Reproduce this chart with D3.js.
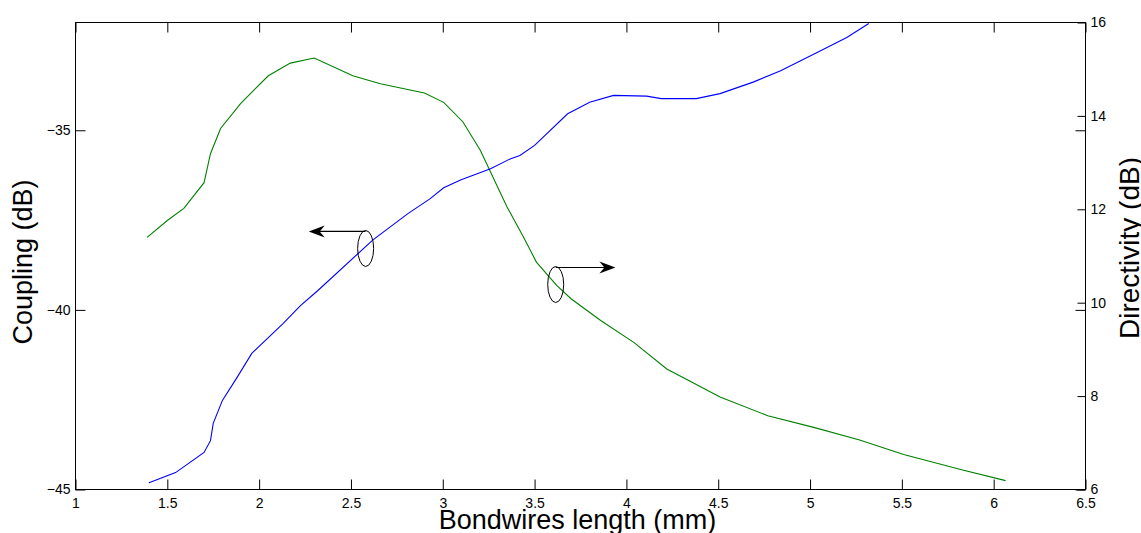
<!DOCTYPE html>
<html>
<head>
<meta charset="utf-8">
<script src="https://cdn.jsdelivr.net/npm/d3@7/dist/d3.min.js"></script>
<style>
    body { margin: 0; background: #fff; }
    text { font-family: "Liberation Sans", Arial, sans-serif; fill: #000; }
    .axis path, .axis line { stroke: #000; }
</style>
</head>
<body>
<div id="chart"></div>
<script>
// coupling curve (left axis)
const couplingLength = [1.40, 1.545, 1.70, 1.735, 1.75, 1.80, 1.88, 1.96, 2.13, 2.225, 2.32, 2.62, 2.81, 2.93, 3.005,
    3.10, 3.26, 3.37, 3.42, 3.50, 3.68, 3.80, 3.93, 4.11, 4.19, 4.38, 4.51, 4.69, 4.84, 5.06, 5.20, 5.32];
const coupling = [-44.81, -44.53, -43.97, -43.64, -43.16, -42.52, -41.88, -41.21, -40.38, -39.88, -39.46, -38.05, -37.32, -36.91, -36.60,
    -36.38, -36.07, -35.79, -35.70, -35.42, -34.54, -34.22, -34.03, -34.05, -34.12, -34.12, -33.98, -33.66, -33.34, -32.78, -32.42, -32.03];

// directivity curve (right axis)
const directivityLength = [1.39, 1.50, 1.59, 1.70, 1.735, 1.79, 1.90, 2.05, 2.17, 2.30, 2.51, 2.66, 2.90, 3.005, 3.11,
    3.205, 3.35, 3.44, 3.51, 3.62, 3.70, 3.86, 4.04, 4.22, 4.51, 4.77, 5.02, 5.27, 5.51, 5.82, 6.065];
const directivity = [11.40, 11.76, 12.02, 12.57, 13.19, 13.73, 14.27, 14.86, 15.13, 15.24, 14.86, 14.69, 14.49, 14.29, 13.87,
    13.26, 12.05, 11.40, 10.87, 10.37, 10.08, 9.62, 9.15, 8.58, 7.98, 7.58, 7.33, 7.06, 6.75, 6.43, 6.19];

const xTicks = [1, 1.5, 2, 2.5, 3, 3.5, 4, 4.5, 5, 5.5, 6, 6.5];
const couplingTicks = [-45, -40, -35];
const directivityTicks = [6, 8, 10, 12, 14, 16];

function DualAxisChart(parentElement) {
    let vis = this;
    vis.parentElement = parentElement;
    vis.initVis();
}

DualAxisChart.prototype.initVis = function() {
    let vis = this;

    vis.margin = {top: 22, right: 56, bottom: 44, left: 75};
    vis.width = 1141 - vis.margin.left - vis.margin.right;
    vis.height = 533 - vis.margin.top - vis.margin.bottom;

    vis.svg = d3.select("#" + vis.parentElement).append("svg")
        .attr("width", 1141)
        .attr("height", 533)
        .append("g")
        .attr("transform", "translate(" + (vis.margin.left + 0.5) + "," + (vis.margin.top + 0.5) + ")");

    vis.x = d3.scaleLinear().domain([1, 6.5]).range([0, vis.width]);
    vis.yLeft = d3.scaleLinear().domain([-45, -32]).range([vis.height, 0]);
    vis.yRight = d3.scaleLinear().domain([6, 16]).range([vis.height, 0]);

    vis.svg.append("clipPath").attr("id", "plotClip")
        .append("rect").attr("width", vis.width).attr("height", vis.height);

    vis.updateVis();
}

DualAxisChart.prototype.updateVis = function() {
    let vis = this;
    let fmt = d3.format("");

    // box
    vis.svg.append("rect")
        .attr("width", vis.width).attr("height", vis.height)
        .attr("fill", "none").attr("stroke", "#000");

    // bottom axis, ticks pointing in
    vis.svg.append("g").attr("class", "axis")
        .attr("transform", "translate(0," + vis.height + ")")
        .call(d3.axisBottom(vis.x).tickValues(xTicks).tickFormat(fmt)
            .tickSizeInner(-10).tickSizeOuter(0).tickPadding(9))
        .call(g => g.select(".domain").remove())
        .selectAll("text").attr("font-size", 14);

    // top mirror ticks
    vis.svg.append("g").attr("class", "axis")
        .call(d3.axisTop(vis.x).tickValues(xTicks).tickFormat("")
            .tickSizeInner(-10).tickSizeOuter(0))
        .call(g => g.select(".domain").remove());

    // left axis
    vis.svg.append("g").attr("class", "axis")
        .call(d3.axisLeft(vis.yLeft).tickValues(couplingTicks).tickFormat(fmt)
            .tickSizeInner(-10).tickSizeOuter(0).tickPadding(5))
        .call(g => g.select(".domain").remove())
        .selectAll("text").attr("font-size", 14);

    // left ticks mirrored on the right side
    vis.svg.append("g").attr("class", "axis")
        .attr("transform", "translate(" + vis.width + ",0)")
        .call(d3.axisRight(vis.yLeft).tickValues(couplingTicks).tickFormat("")
            .tickSizeInner(-10).tickSizeOuter(0))
        .call(g => g.select(".domain").remove());

    // right axis
    vis.svg.append("g").attr("class", "axis")
        .attr("transform", "translate(" + vis.width + ",0)")
        .call(d3.axisRight(vis.yRight).tickValues(directivityTicks).tickFormat(fmt)
            .tickSizeInner(-8).tickSizeOuter(0).tickPadding(5))
        .call(g => g.select(".domain").remove())
        .selectAll("text").attr("font-size", 14);

    // curves
    let couplingLine = d3.line()
        .x((d, i) => vis.x(couplingLength[i]))
        .y(d => vis.yLeft(d));
    let directivityLine = d3.line()
        .x((d, i) => vis.x(directivityLength[i]))
        .y(d => vis.yRight(d));

    vis.svg.append("path")
        .datum(directivity)
        .attr("clip-path", "url(#plotClip)")
        .attr("fill", "none").attr("stroke", "#008000").attr("stroke-width", 1.1)
        .attr("d", directivityLine);

    vis.svg.append("path")
        .datum(coupling)
        .attr("clip-path", "url(#plotClip)")
        .attr("fill", "none").attr("stroke", "#0000ff").attr("stroke-width", 1.1)
        .attr("d", couplingLine);

    // ellipse + arrow markers telling which axis each curve uses
    let arrowHead = "M0,0L-16,-6L-11,0L-16,6Z";
    function marker(cx, cy, tipX, dir) {
        let g = vis.svg.append("g");
        g.append("ellipse")
            .attr("cx", cx).attr("cy", cy).attr("rx", 8).attr("ry", 18)
            .attr("fill", "none").attr("stroke", "#000").attr("stroke-width", 1);
        g.append("line")
            .attr("x1", cx).attr("y1", cy - 17).attr("x2", tipX - dir * 10).attr("y2", cy - 17)
            .attr("stroke", "#000").attr("stroke-width", 1.2);
        g.append("path")
            .attr("d", arrowHead)
            .attr("transform", "translate(" + tipX + "," + (cy - 17) + ") scale(" + dir + ",1)")
            .attr("fill", "#000");
    }
    marker(vis.x(2.58), vis.yLeft(-38.29), vis.x(2.27), -1);
    marker(vis.x(3.615), vis.yRight(10.39), vis.x(3.94), 1);

    // axis titles
    vis.svg.append("text")
        .attr("x", vis.width / 2 - 3).attr("y", vis.height + 39)
        .attr("text-anchor", "middle").attr("font-size", 27)
        .text("Bondwires length (mm)");

    vis.svg.append("text")
        .attr("transform", "translate(" + (-44) + "," + (vis.height / 2 + 6) + ") rotate(-90)")
        .attr("text-anchor", "middle").attr("font-size", 27)
        .text("Coupling (dB)");

    vis.svg.append("text")
        .attr("transform", "translate(" + (vis.width + 53) + "," + (vis.height / 2 - 8) + ") rotate(-90)")
        .attr("text-anchor", "middle").attr("font-size", 28)
        .text("Directivity (dB)");
}

new DualAxisChart("chart");
</script>
</body>
</html>
